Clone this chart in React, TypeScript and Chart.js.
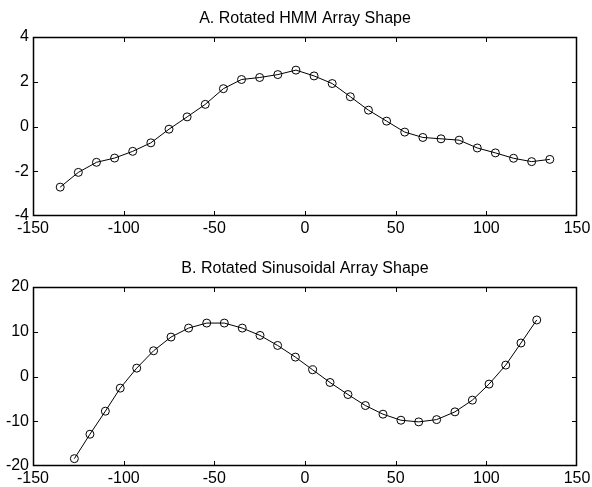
import React, { useEffect, useRef } from "react";
import { Chart, registerables } from "chart.js";

Chart.register(...registerables);

// ---- data ----
const hmmTitle = "A. Rotated HMM Array Shape";
const hmmX = [-135, -125, -115, -105, -95, -85, -75, -65, -55, -45, -35, -25, -15, -5, 5, 15, 25, 35, 45, 55, 65, 75, 85, 95, 105, 115, 125, 135];
const hmmY = [-2.71, -2.05, -1.6, -1.41, -1.11, -0.73, -0.12, 0.43, 0.99, 1.69, 2.1, 2.19, 2.32, 2.52, 2.26, 1.92, 1.33, 0.73, 0.24, -0.25, -0.49, -0.55, -0.61, -0.96, -1.18, -1.42, -1.57, -1.47];
const hmmYTicks = [-4, -2, 0, 2, 4];

const sinTitle = "B. Rotated Sinusoidal Array Shape";
const sinX = [-127.2, -118.6, -110.1, -101.9, -92.8, -83.5, -73.9, -64.2, -54.2, -44.5, -34.6, -24.8, -15.1, -5.3, 4.2, 13.8, 23.7, 33.3, 43.0, 52.9, 62.7, 72.6, 82.7, 92.3, 101.5, 110.7, 119.1, 127.8];
const sinY = [-18.36, -12.9, -7.75, -2.6, 1.87, 5.75, 8.81, 10.82, 11.94, 11.94, 10.82, 9.18, 6.94, 4.33, 1.5, -1.34, -4.03, -6.49, -8.42, -9.77, -10.14, -9.63, -7.9, -5.28, -1.7, 2.55, 7.48, 12.63];
const sinYTicks = [-20, -10, 0, 10, 20];

const xTicks = [-150, -100, -50, 0, 50, 100, 150];

const FONT = "'Liberation Sans', Arial, Helvetica, sans-serif";

type PanelProps = {
  title: string;
  xs: number[];
  ys: number[];
  yTicks: number[];
  height: number;
  top: number;
  areaTop: number;
};

const framePlugin = {
  id: "matlabFrame",
  afterDraw(chart: any, _args: any, opts: any) {
    const { ctx, chartArea } = chart;
    const { left, right, top, bottom } = chartArea;
    const xs = chart.scales.x;
    const ys = chart.scales.y;
    ctx.save();
    ctx.strokeStyle = "#000";
    ctx.lineWidth = 1.5;
    ctx.beginPath();
    ctx.rect(left + 0.5, top + 0.5, right - left - 1, bottom - top - 1);
    ctx.stroke();
    ctx.lineWidth = 1;
    const tl = 5;
    ctx.beginPath();
    xs.ticks.forEach((t: any) => {
      const p = Math.round(xs.getPixelForValue(t.value)) + 0.5;
      if (p <= left + 1 || p >= right - 1) return;
      ctx.moveTo(p, bottom);
      ctx.lineTo(p, bottom - tl);
      ctx.moveTo(p, top);
      ctx.lineTo(p, top + tl);
    });
    ys.ticks.forEach((t: any) => {
      const p = Math.round(ys.getPixelForValue(t.value)) + 0.5;
      if (p <= top + 1 || p >= bottom - 1) return;
      ctx.moveTo(left, p);
      ctx.lineTo(left + tl, p);
      ctx.moveTo(right, p);
      ctx.lineTo(right - tl, p);
    });
    ctx.stroke();
    // title
    ctx.fillStyle = "#000";
    ctx.font = `16px ${FONT}`;
    ctx.textAlign = "center";
    ctx.textBaseline = "middle";
    ctx.fillText(opts.text, (left + right) / 2, top - 18);
    ctx.restore();
  },
};

function Panel({ title, xs, ys, yTicks, height, top, areaTop }: PanelProps) {
  const ref = useRef<HTMLCanvasElement | null>(null);
  useEffect(() => {
    if (!ref.current) return;
    const data = xs.map((x, i) => ({ x, y: ys[i] }));
    const chart = new Chart(ref.current, {
      type: "scatter",
      data: {
        datasets: [
          {
            data,
            showLine: true,
            borderColor: "#000",
            borderWidth: 1,
            backgroundColor: "rgba(0,0,0,0)",
            pointBorderColor: "#000",
            pointBackgroundColor: "rgba(0,0,0,0)",
            pointBorderWidth: 1,
            pointRadius: 4,
            pointStyle: "circle",
            tension: 0,
          },
        ],
      },
      options: {
        animation: false,
        responsive: false,
        devicePixelRatio: 1,
        layout: { padding: { top: areaTop, right: 15, left: 0, bottom: 0 } },
        plugins: {
          legend: { display: false },
          tooltip: { enabled: false },
          title: { display: false },
          matlabFrame: { text: title },
        } as any,
        scales: {
          x: {
            type: "linear",
            min: -150,
            max: 150,
            grid: { display: false, drawTicks: false },
            border: { display: false },
            afterBuildTicks: (s: any) => {
              s.ticks = xTicks.map((v) => ({ value: v }));
            },
            afterFit: (s: any) => {
              s.height = height - (areaTop + 179);
              s.paddingLeft = 0;
              s.paddingRight = 0;
            },
            ticks: {
              autoSkip: false,
              maxRotation: 0,
              padding: 3,
              color: "#000",
              font: { family: FONT, size: 16 },
            },
          },
          y: {
            type: "linear",
            min: yTicks[0],
            max: yTicks[yTicks.length - 1],
            grid: { display: false, drawTicks: false },
            border: { display: false },
            afterBuildTicks: (s: any) => {
              s.ticks = yTicks.map((v) => ({ value: v }));
            },
            afterFit: (s: any) => {
              s.width = 33;
              s.paddingTop = 0;
              s.paddingBottom = 0;
            },
            ticks: {
              autoSkip: false,
              padding: 4,
              color: "#000",
              font: { family: FONT, size: 16 },
            },
          },
        },
      },
      plugins: [framePlugin],
    });
    return () => chart.destroy();
  }, []);
  return (
    <canvas
      ref={ref}
      width={592}
      height={height}
      style={{ position: "absolute", left: 0, top, width: 592, height, display: "block" }}
    />
  );
}

export default function App() {
  return (
    <div style={{ position: "fixed", left: 0, top: 0, width: 592, height: 487, background: "#fff" }}>
      <Panel title={hmmTitle} xs={hmmX} ys={hmmY} yTicks={hmmYTicks} height={243} top={0} areaTop={37} />
      <Panel title={sinTitle} xs={sinX} ys={sinY} yTicks={sinYTicks} height={244} top={243} areaTop={44} />
    </div>
  );
}
